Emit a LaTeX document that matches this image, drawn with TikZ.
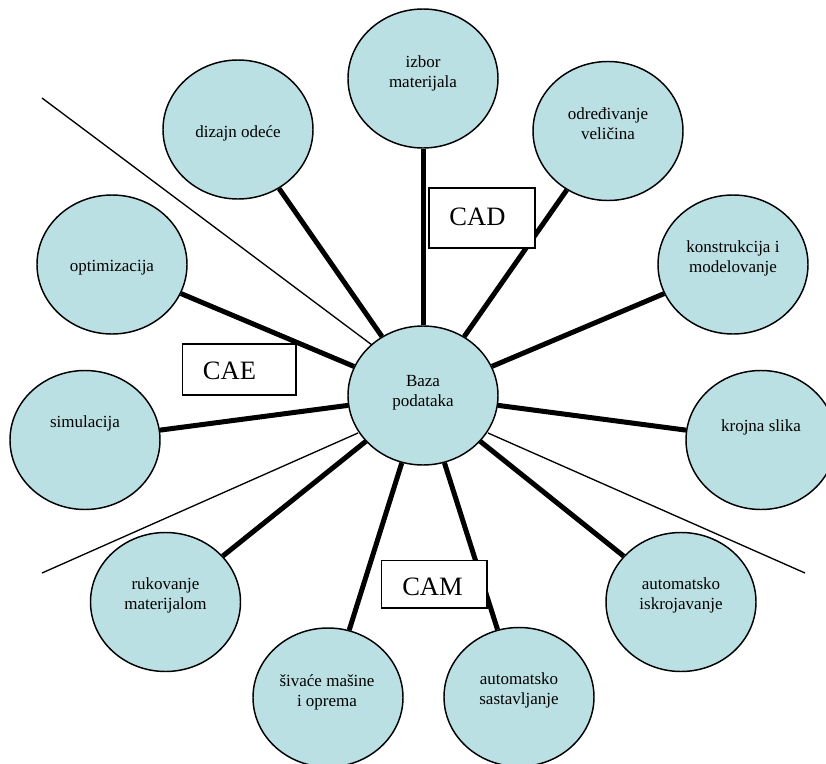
\documentclass[tikz,border=0pt]{standalone}
\usepackage{fontspec}
\setmainfont{Liberation Serif}
\usetikzlibrary{shapes.geometric}
\definecolor{bubblefill}{RGB}{187,224,227}
\begin{document}
\begin{tikzpicture}[x=0.75pt,y=-0.75pt,
  bubble/.style={ellipse, draw=black, line width=1.1pt, fill=bubblefill,
    minimum width=112.5pt, minimum height=104.25pt, inner sep=0pt},
  txt/.style={font=\fontsize{12.75}{15}\selectfont, align=center, inner sep=0pt},
  spoke/.style={line width=3.75pt},
  divider/.style={line width=1pt},
  tag/.style={draw=black, fill=white, line width=1pt, inner sep=0pt},
  tagtext/.style={font=\fontsize{19.9}{22}\selectfont, inner sep=0pt}
]
\useasboundingbox (0,0) rectangle (826,764);
\clip (0,0) rectangle (826,764);

% central database and the surrounding activities
\node[bubble] (baza)   at (423,395.5) {};
\node[bubble] (izbor)  at (423,78.5)  {};
\node[bubble] (dizajn) at (238,129.5) {};
\node[bubble] (odred)  at (608,131)   {};
\node[bubble] (konstr) at (733,264.5) {};
\node[bubble] (optim)  at (112,264.5) {};
\node[bubble] (simul)  at (85,440)    {};
\node[bubble] (kroj)   at (761,440)   {};
\node[bubble] (rukov)  at (165.5,602) {};
\node[bubble] (sivace) at (328,697.5) {};
\node[bubble] (sastav) at (519,697)   {};
\node[bubble] (iskroj) at (681,602)   {};

% spokes from the database to each activity
\foreach \n in {izbor,dizajn,odred,konstr,optim,simul,kroj,rukov,sivace,sastav,iskroj}
  \draw[spoke] (baza) -- (\n);

% sector dividers
\coordinate (d1a) at (42,98);   \coordinate (d1b) at (372,345);
\coordinate (d2a) at (42,573);  \coordinate (d2b) at (358,433);
\coordinate (d3a) at (805,573); \coordinate (d3b) at (488,433);
\draw[divider] (d1a) -- (d1b);
\draw[divider] (d2a) -- (d2b);
\draw[divider] (d3a) -- (d3b);

% texts inside the bubbles
\node[txt] (tbaza)   at (423,393)   {Baza\\podataka};
\node[txt] (tizbor)  at (423,73.5)  {izbor\\materijala};
\node[txt] (tdizajn) at (238,133)   {dizajn odeće};
\node[txt] (todred)  at (608,123.5) {određivanje\\veličina};
\node[txt] (tkonstr) at (733,258)   {konstrukcija i\\modelovanje};
\node[txt] (toptim)  at (112,268)   {optimizacija};
\node[txt] (tsimul)  at (85,423)    {simulacija};
\node[txt] (tkroj)   at (761,427)   {krojna slika};
\node[txt] (trukov)  at (165.5,595.5) {rukovanje\\materijalom};
\node[txt] (tsivace) at (327,692.5) {šivaće mašine\\i oprema};
\node[txt] (tsastav) at (519,690.5) {automatsko\\sastavljanje};
\node[txt] (tiskroj) at (681,595)   {automatsko\\iskrojavanje};

% sector labels
\node[tag, minimum width=79.5pt, minimum height=45pt]    (cad) at (482,218)     {};
\node[tag, minimum width=85pt, minimum height=38.25pt]   (cae) at (239.3,369.5) {};
\node[tag, minimum width=79pt, minimum height=35.5pt]    (cam) at (434.3,584.3) {};
\node[tagtext] (tcad) at (477.5,217) {CAD};
\node[tagtext] (tcae) at (229.5,371) {CAE};
\node[tagtext] (tcam) at (432.5,587) {CAM};
\end{tikzpicture}
\end{document}
